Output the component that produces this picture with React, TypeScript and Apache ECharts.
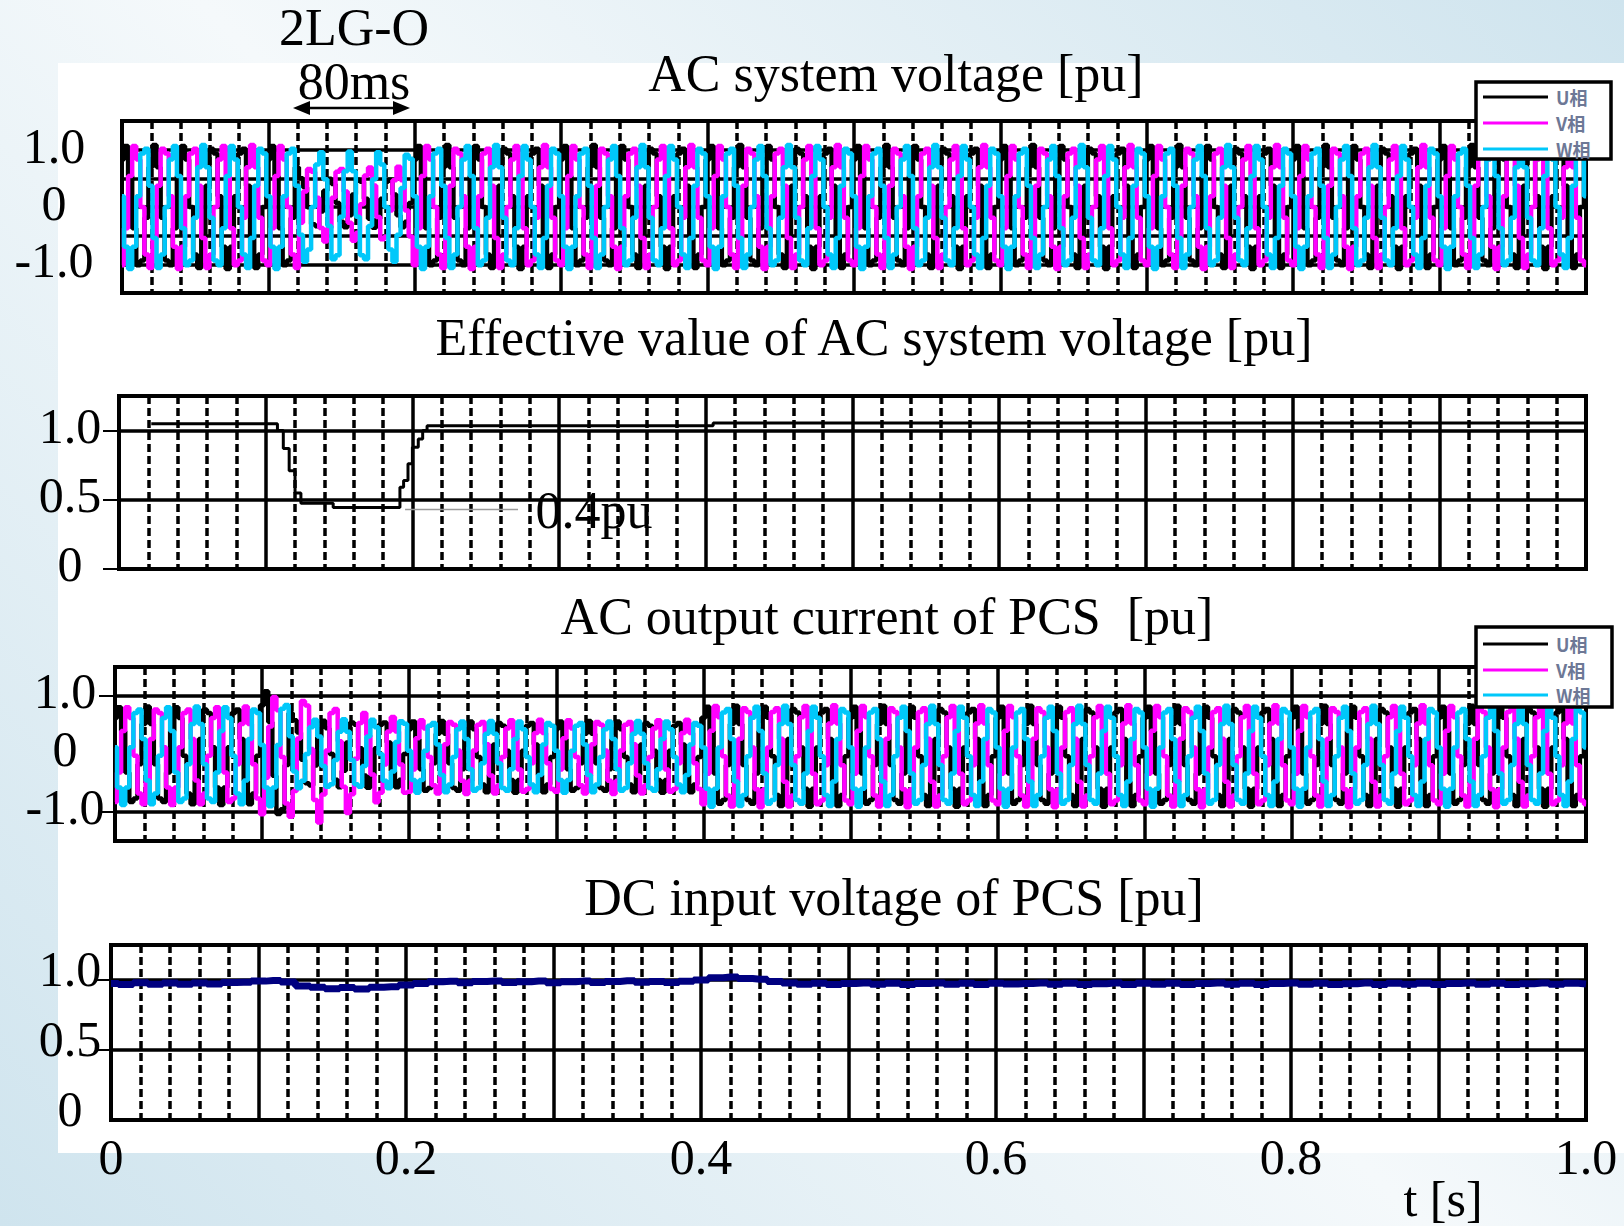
import React, { useEffect, useRef } from "react";
import * as echarts from "echarts";

const FONT = '"Liberation Serif", "Times New Roman", serif';

// ---- tick labels ----
const TIME_LABELS = [0, 0.2, 0.4, 0.6, 0.8, 1.0];
const WAVE_LABELS = [-1, 0, 1];
const PU_LABELS = [0, 0.5, 1];

// ---- three-phase waveform parameters ----
const FREQ_HZ = 50;
const SAMPLES_PER_S = 360;
const PHASE_U = 320;
const PHASE_V = 200;
const PHASE_W = 80;

// segments: [tStart, tEnd, amplitude, offset]
const VS_U = [[0, 0.12, 1.08, 0], [0.12, 0.2, 0.43, 0.07], [0.2, 1.01, 1.08, 0]];
const VS_V = [[0, 0.12, 1.08, 0], [0.12, 0.2, 0.65, 0.05], [0.2, 1.01, 1.08, 0]];
const VS_W = [[0, 0.12, 1.08, 0], [0.12, 0.2, 0.97, 0], [0.2, 1.01, 1.08, 0]];

const IC_U = [[0, 0.1, 0.85, -0.03], [0.1, 0.12, 1.1, 0], [0.12, 0.2, 0.58, 0], [0.2, 0.4, 0.62, -0.05], [0.4, 1.01, 0.87, -0.04]];
const IC_V = [[0, 0.1, 0.85, -0.03], [0.1, 0.12, 1.05, -0.05], [0.12, 0.14, 1.08, -0.1], [0.14, 0.16, 0.93, -0.1], [0.16, 0.18, 0.8, -0.08], [0.18, 0.2, 0.7, -0.06], [0.2, 0.4, 0.64, -0.05], [0.4, 1.01, 0.88, -0.04]];
const IC_W = [[0, 0.1, 0.85, -0.03], [0.1, 0.12, 0.9, 0], [0.12, 0.2, 0.6, 0], [0.2, 0.4, 0.62, -0.05], [0.4, 1.01, 0.87, -0.04]];

// ---- effective value of AC system voltage (staircase) ----
const EFF_T = [0.022, 0.108, 0.112, 0.116, 0.120, 0.124, 0.146, 0.1915, 0.194, 0.197, 0.2, 0.204, 0.207, 0.21, 0.405, 1.0];
const EFF_V = [1.05, 1.0, 0.87, 0.71, 0.55, 0.475, 0.445, 0.59, 0.64, 0.76, 0.88, 0.94, 1.0, 1.035, 1.055, 1.055];
const LEADER_T = [0.195, 0.272];
const LEADER_V = [0.43, 0.43];

// ---- DC input voltage, every 0.01 s ----
const DC_V = [
  0.975, 0.968, 0.98, 0.97, 0.978, 0.969, 0.979, 0.972, 0.982, 0.984, 0.992,
  0.996, 0.985, 0.958, 0.948, 0.938, 0.947, 0.936, 0.948, 0.951, 0.964,
  0.975, 0.987, 0.991, 0.981, 0.99, 0.993, 0.982, 0.988, 0.993, 0.981,
  0.987, 0.992, 0.982, 0.989, 0.994, 0.984, 0.99, 0.983, 0.991, 1.0,
  1.016, 1.021, 1.011, 1.006, 0.99, 0.978, 0.97, 0.977, 0.968, 0.975,
  0.979, 0.969, 0.976, 0.967, 0.975, 0.978, 0.969, 0.976, 0.968, 0.977,
  0.971, 0.975, 0.979, 0.969, 0.976, 0.967, 0.974, 0.978, 0.968, 0.976,
  0.97, 0.977, 0.968, 0.975, 0.979, 0.969, 0.976, 0.968, 0.975, 0.978,
  0.969, 0.976, 0.967, 0.974, 0.978, 0.968, 0.976, 0.97, 0.977, 0.968,
  0.975, 0.979, 0.969, 0.976, 0.968, 0.974, 0.978, 0.969, 0.976, 0.971,
];

const C_U = "#000000";
const C_V = "#ff00ff";
const C_W = "#00c8fa";
const C_DC = "#000080";

function wave(segs: number[][], phaseDeg: number): number[][] {
  const pts: number[][] = [];
  for (let i = 0; i <= SAMPLES_PER_S; i++) {
    const t = i / SAMPLES_PER_S;
    const s = segs.find((g) => t >= g[0] && t < g[1]) || segs[segs.length - 1];
    const v = s[3] + s[2] * Math.cos(2 * Math.PI * FREQ_HZ * t + (phaseDeg * Math.PI) / 180);
    pts.push([t, v]);
  }
  return pts;
}

const fmt = (v: number) => (v === 0 ? "0" : v.toFixed(1));

function xAx(gi: number, showLabels: boolean) {
  return {
    type: "value",
    gridIndex: gi,
    min: 0,
    max: 1,
    interval: 0.1,
    axisLine: { show: false },
    axisTick: { show: false },
    axisLabel: showLabels
      ? { show: true, customValues: TIME_LABELS, formatter: fmt, fontFamily: FONT, fontSize: 50, color: "#000", margin: 12 }
      : { show: false },
    splitLine: { show: true, lineStyle: { color: "#000", width: 3.5 } },
    minorTick: { show: false, splitNumber: 5 },
    minorSplitLine: { show: true, lineStyle: { color: "#000", width: 3.5, type: [8, 4] } },
  };
}

// lift: how far (px) the label's centre sits above its tick
function yAx(gi: number, min: number, max: number, interval: number, labels: number[], ticks: number[] | null, margin: number, lift: number) {
  return {
    type: "value",
    gridIndex: gi,
    min,
    max,
    interval,
    axisLine: { show: false },
    axisTick: ticks
      ? { show: true, customValues: ticks, length: 16, lineStyle: { color: "#000", width: 2 } }
      : { show: false },
    axisLabel: {
      show: true,
      customValues: labels,
      formatter: fmt,
      fontFamily: FONT,
      fontSize: 50,
      color: "#000",
      align: "center",
      verticalAlign: "bottom",
      lineHeight: lift * 2,
      margin,
    },
    splitLine: { show: true, lineStyle: { color: "#000", width: 3.5 } },
  };
}

function line(gi: number, data: number[][], color: string, width: number, step: any) {
  return {
    type: "line",
    xAxisIndex: gi,
    yAxisIndex: gi,
    data,
    showSymbol: false,
    symbol: "none",
    step,
    silent: true,
    lineStyle: { color, width },
    z: 3,
  };
}

function txt(x: number, y: number, text: string, size: number, extra: any = {}) {
  return {
    type: "text",
    x,
    y,
    z: 100,
    style: {
      text,
      fill: "#000",
      fontFamily: FONT,
      fontSize: size,
      lineHeight: size * 0.85,
      textAlign: "center",
      textVerticalAlign: "middle",
      align: "center",
      verticalAlign: "middle",
      ...extra,
    },
  };
}

function legend(x: number, y: number, w: number, h: number, ys: number[]) {
  const cols = [C_U, C_V, C_W];
  const names = ["U相", "V相", "W相"];
  const els: any[] = [
    { type: "rect", z: 100, shape: { x, y, width: w, height: h }, style: { fill: "#fff", stroke: "#000", lineWidth: 3.5 } },
  ];
  ys.forEach((ly, i) => {
    els.push({ type: "line", z: 101, shape: { x1: x + 7, y1: ly, x2: x + 72, y2: ly }, style: { stroke: cols[i], lineWidth: 3 } });
    els.push({
      type: "text",
      z: 101,
      x: x + 80,
      y: ly,
      style: {
        text: names[i],
        fill: "#6d7896",
        fontFamily: '"Noto Sans CJK JP", sans-serif',
        fontWeight: "bold",
        fontSize: 18,
        textAlign: "left",
        align: "left",
        textVerticalAlign: "middle",
        verticalAlign: "middle",
      },
    });
  });
  return els;
}

export default function App() {
  const ref = useRef<HTMLDivElement>(null);

  useEffect(() => {
    if (!ref.current) return;
    const chart = echarts.init(ref.current, undefined, { renderer: "svg" });

    const effData = EFF_T.map((t, i) => [t, EFF_V[i]]);
    const leader = LEADER_T.map((t, i) => [t, LEADER_V[i]]);
    const dcData = DC_V.map((v, i) => [i / 100, v]);

    const grids = [
      { left: 122, top: 121, width: 1464, height: 172 },
      { left: 119, top: 396, width: 1467, height: 173 },
      { left: 115, top: 667, width: 1471, height: 174 },
      { left: 111, top: 945, width: 1475, height: 175 },
    ].map((g) => ({ ...g, show: true, borderColor: "#000", borderWidth: 4, backgroundColor: "transparent", containLabel: false }));

    const arrowY = 108;
    const ax1 = 293;
    const ax2 = 410;

    chart.setOption({
      animation: false,
      backgroundColor: "transparent",
      grid: grids,
      xAxis: [xAx(0, false), xAx(1, false), xAx(2, false), xAx(3, true)],
      yAxis: [
        yAx(0, -1.5, 1.5, 0.5, WAVE_LABELS, null, 68, 4),
        yAx(1, 0, 1.25, 0.25, PU_LABELS, PU_LABELS, 49, 5),
        yAx(2, -1.5, 1.5, 0.5, WAVE_LABELS, [-1, 1], 50, 5),
        yAx(3, 0, 1.25, 0.25, PU_LABELS, [0.5, 1], 41, 11),
      ],
      series: [
        line(0, wave(VS_U, PHASE_U), C_U, 4.5, "middle"),
        line(0, wave(VS_V, PHASE_V), C_V, 4.5, "middle"),
        line(0, wave(VS_W, PHASE_W), C_W, 4.5, "middle"),
        line(1, leader, "#9a9a9a", 1.5, false),
        line(1, effData, "#000", 3, "end"),
        line(2, wave(IC_U, PHASE_U), C_U, 4.5, "middle"),
        line(2, wave(IC_V, PHASE_V), C_V, 4.5, "middle"),
        line(2, wave(IC_W, PHASE_W), C_W, 4.5, "middle"),
        line(3, dcData, C_DC, 7, "middle"),
      ],
      graphic: [
        txt(896, 73, "AC system voltage [pu]", 52),
        txt(874, 337, "Effective value of AC system voltage [pu]", 52),
        txt(887, 616, "AC output current of PCS  [pu]", 52),
        txt(894, 897, "DC input voltage of PCS [pu]", 52),
        txt(354, 27, "2LG-O", 52),
        txt(354, 81, "80ms", 52),
        txt(594, 510, "0.4pu", 52),
        txt(1443, 1199, "t [s]", 50),
        { type: "line", z: 100, shape: { x1: ax1 + 10, y1: arrowY, x2: ax2 - 10, y2: arrowY }, style: { stroke: "#000", lineWidth: 2.5 } },
        { type: "polygon", z: 100, shape: { points: [[ax1, arrowY], [ax1 + 17, arrowY - 7], [ax1 + 17, arrowY + 7]] }, style: { fill: "#000" } },
        { type: "polygon", z: 100, shape: { points: [[ax2, arrowY], [ax2 - 17, arrowY - 7], [ax2 - 17, arrowY + 7]] }, style: { fill: "#000" } },
        ...legend(1476, 82, 135, 77, [97, 123, 149]),
        ...legend(1476, 627, 136, 80, [644, 670, 695]),
      ],
    });

    return () => chart.dispose();
  }, []);

  return (
    <div
      style={{
        position: "fixed",
        left: 0,
        top: 0,
        width: 1624,
        height: 1226,
        overflow: "hidden",
        background: "linear-gradient(45deg, #cfe4ee 0%, #f5f9fb 50%, #cfe4ee 100%)",
      }}
    >
      <div style={{ position: "absolute", left: 58, top: 63, width: 1566, height: 1090, background: "#fff" }} />
      <div ref={ref} style={{ position: "absolute", left: 0, top: 0, width: 1624, height: 1226 }} />
    </div>
  );
}
